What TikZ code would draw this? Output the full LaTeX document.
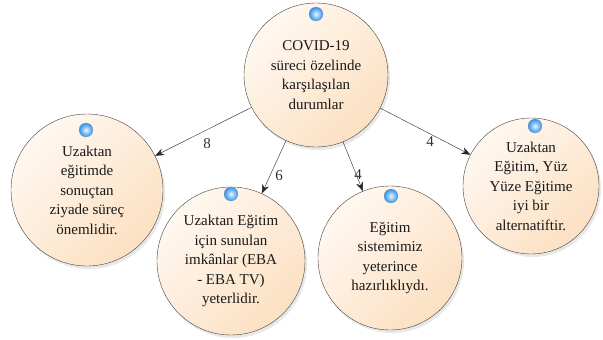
\documentclass[tikz,border=0pt]{standalone}
\usepackage{fontspec}
\setmainfont{Liberation Serif}
\usetikzlibrary{arrows.meta, shadows}

\definecolor{PeachLight}{HTML}{FFF8F0}
\definecolor{PeachDark}{HTML}{FCE0C2}
\definecolor{BallCore}{HTML}{E6F7FF}
\definecolor{BallBlue}{HTML}{2F8FF0}
\definecolor{LabelInk}{HTML}{3B2E22}

\tikzset{
  theme/.style={circle, draw=black!75, thin, top color=PeachLight,
     bottom color=PeachDark, shading angle=45,
     drop shadow={opacity=0.18, shadow xshift=2pt, shadow yshift=-3pt},
     align=center, inner sep=0pt, text=black!90,
     font=\fontsize{15}{19.5}\selectfont},
  dot/.style={circle, inner sep=0pt, minimum size=14pt, draw=black!40,
     very thin, inner color=BallCore, outer color=BallBlue},
  link/.style={thin, black!85, -{Stealth[length=9pt, width=7pt]}},
  count/.style={font=\fontsize{15}{16}\selectfont, text=LabelInk},
}

\begin{document}
\begin{tikzpicture}[x=1pt, y=-1pt]
   \useasboundingbox (0,0) rectangle (603,340);

   % themes
   \node (root) at (316,75) [theme, minimum size=144pt]
      {COVID-19\\süreci özelinde\\karşılaşılan\\durumlar};
   \node (process) at (87,190) [theme, minimum size=152pt]
      {Uzaktan\\eğitimde\\sonuçtan\\ziyade süreç\\önemlidir.};
   \node (eba) at (231,261) [theme, minimum size=148pt]
      {Uzaktan Eğitim\\için sunulan\\imkânlar (EBA\\- EBA TV)\\yeterlidir.};
   \node (ready) at (390,258) [theme, minimum size=144pt]
      {Eğitim\\sistemimiz\\yeterince\\hazırlıklıydı.};
   \node (alt) at (531,186) [theme, minimum size=136pt]
      {Uzaktan\\Eğitim, Yüz\\Yüze Eğitime\\iyi bir\\alternatiftir.};

   % markers
   \node (rootdot) at (316,14) [dot] {};
   \node (processdot) at (86,130) [dot] {};
   \node (ebadot) at (231,194) [dot] {};
   \node (readydot) at (391,196) [dot] {};
   \node (altdot) at (535,126) [dot] {};

   \draw [link] (root) -- (process);
   \draw [link] (root) -- (eba);
   \draw [link] (root) -- (ready);
   \draw [link] (root) -- (alt);

   \node (n8) at (207,144) [count] {8};
   \node (n6) at (279,176) [count] {6};
   \node (n4a) at (358,175) [count] {4};
   \node (n4b) at (430,142) [count] {4};
\end{tikzpicture}
\end{document}
